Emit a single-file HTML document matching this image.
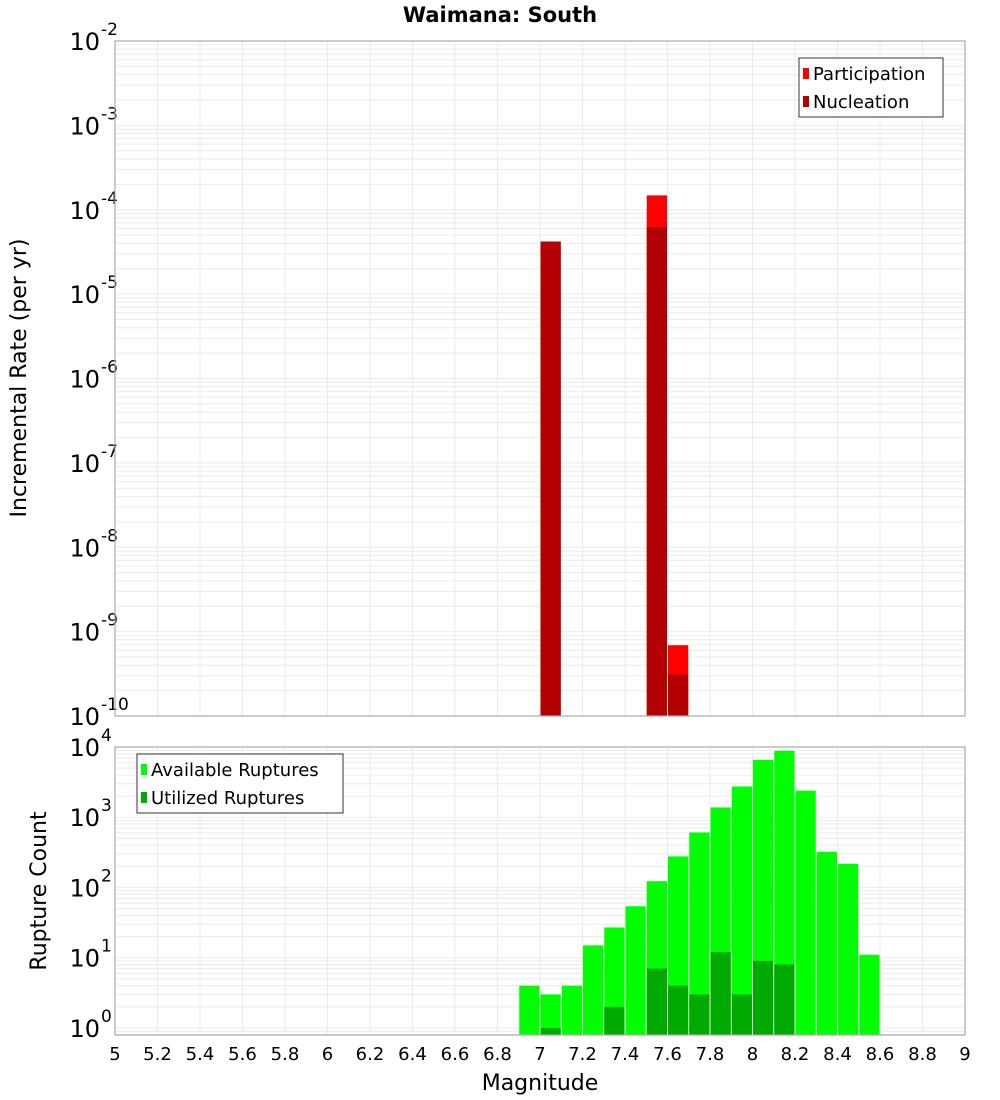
<!DOCTYPE html>
<html><head><meta charset="utf-8"><style>
html,body{margin:0;padding:0;background:#fff;}
svg{display:block;font-family:"DejaVu Sans","Liberation Sans",sans-serif;}
</style></head><body>
<svg id="chart" width="1000" height="1100" viewBox="0 0 1000 1100" xmlns="http://www.w3.org/2000/svg">
<text x="500" y="22" text-anchor="middle" font-size="21" font-weight="bold">Waimana: South</text>
<g id="topPlot"></g><g id="botPlot"></g>
<text transform="translate(26,378) rotate(-90)" text-anchor="middle" font-size="22">Incremental Rate (per yr)</text>
<text transform="translate(46,891) rotate(-90)" text-anchor="middle" font-size="22">Rupture Count</text>
<text x="540" y="1090" text-anchor="middle" font-size="22">Magnitude</text>
<g>
<rect x="799" y="58" width="144" height="59" fill="#fff" stroke="#333" stroke-width="1"/>
<rect x="803" y="68" width="6" height="11" fill="#ff0000"/>
<text x="813" y="80" font-size="18">Participation</text>
<rect x="803" y="96" width="6" height="11" fill="#b30000"/>
<text x="813" y="108" font-size="18">Nucleation</text>
</g>
<g>
<rect x="137" y="754" width="206" height="59" fill="#fff" stroke="#333" stroke-width="1"/>
<rect x="141" y="764" width="6" height="11" fill="#00ff00"/>
<text x="151" y="776" font-size="18">Available Ruptures</text>
<rect x="141" y="792" width="6" height="11" fill="#00aa00"/>
<text x="151" y="804" font-size="18">Utilized Ruptures</text>
</g>
</svg>
<script>
const xTicks = [5,5.2,5.4,5.6,5.8,6,6.2,6.4,6.6,6.8,7,7.2,7.4,7.6,7.8,8,8.2,8.4,8.6,8.8,9];
const rateMags = [7.05, 7.55, 7.65];
const participation = [4.2e-5, 1.48e-4, 6.9e-10];
const nucleation = [4.2e-5, 6.25e-5, 3.1e-10];
const countMags = [6.95,7.05,7.15,7.25,7.35,7.45,7.55,7.65,7.75,7.85,7.95,8.05,8.15,8.25,8.35,8.45,8.55];
const available = [4,3,4,15,27,54,123,277,607,1380,2740,6560,8800,2390,323,218,11];
const utilized = [0,1,0,0,2,0,7,4,3,12,3,9,8,0,0,0,0];
const topExps = [-2,-3,-4,-5,-6,-7,-8,-9,-10];
const botExps = [0,1,2,3,4];

(function(){
const NS='http://www.w3.org/2000/svg';
const X0=115,X1=965;
const xs=v=>X0+(v-5)/(9-5)*(X1-X0);
const T={top:41,bot:716,lo:-10,hi:-2};
const B={top:747,bot:1035,lo:-0.1,hi:4.0};
const ys=(P,v)=>P.bot-(Math.log10(v)-P.lo)/(P.hi-P.lo)*(P.bot-P.top);
function mk(parent,tag,attrs){const e=document.createElementNS(NS,tag);for(const k in attrs)e.setAttribute(k,attrs[k]);parent.appendChild(e);return e;}

function drawFrame(g,P,exps,name){
  const grid=mk(g,'g',{});
  
  
  xTicks.forEach(t=>{const x=xs(t);mk(grid,'line',{x1:x,x2:x,y1:P.top,y2:P.bot,stroke:'#ebebeb','stroke-width':1});});
  for(let d=Math.floor(P.lo);d<=Math.ceil(P.hi);d++){for(let m=1;m<10;m++){const v=m*Math.pow(10,d);const lv=Math.log10(v);if(lv<P.lo-1e-9||lv>P.hi+1e-9)continue;const y=ys(P,v);mk(grid,'line',{x1:X0,x2:X1,y1:y,y2:y,stroke:'#ebebeb','stroke-width':1});}}
  exps.forEach(e=>{const y=ys(P,Math.pow(10,e));const t=mk(g,'text',{x:100,y:y+9,'text-anchor':'end','font-size':24});
    
    
    t.textContent='10';const s=mk(g,'text',{x:101,y:y-6,'font-size':17});s.textContent=String(e);});
}
function drawBorder(g,P){mk(g,'rect',{x:X0,y:P.top,width:X1-X0,height:P.bot-P.top,fill:'none',stroke:'#aaa','stroke-width':1.2});}

const gTop=document.getElementById('topPlot'),gBot=document.getElementById('botPlot');
drawFrame(gTop,T,topExps,'top');
drawFrame(gBot,B,botExps,'bottom');
const w=(X1-X0)/40;
rateMags.forEach((m,i)=>{
  const x=xs(m)-w/2+0.5;
  const p=mk(gTop,'rect',{x:x,y:ys(T,participation[i]),width:w-1,height:T.bot-ys(T,participation[i]),fill:'#ff0000'});
  
  
  const n=mk(gTop,'rect',{x:x,y:ys(T,nucleation[i]),width:w-1,height:T.bot-ys(T,nucleation[i]),fill:'#b30000'});
  
  
});
countMags.forEach((m,i)=>{
  const x=xs(m)-w/2+0.5;
  if(available[i]>0){const a=mk(gBot,'rect',{x:x,y:ys(B,available[i]),width:w-1,height:B.bot-ys(B,available[i]),fill:'#00ff00'});
    
    }
  if(utilized[i]>0){const u=mk(gBot,'rect',{x:x,y:ys(B,utilized[i]),width:w-1,height:B.bot-ys(B,utilized[i]),fill:'#00aa00'});
    
    }
});
drawBorder(gTop,T);drawBorder(gBot,B);
xTicks.forEach(t=>{const l=mk(gBot,'text',{x:xs(t),y:1060,'text-anchor':'middle','font-size':18});
  
  
  l.textContent=String(t);});
})();
</script>
</body></html>
